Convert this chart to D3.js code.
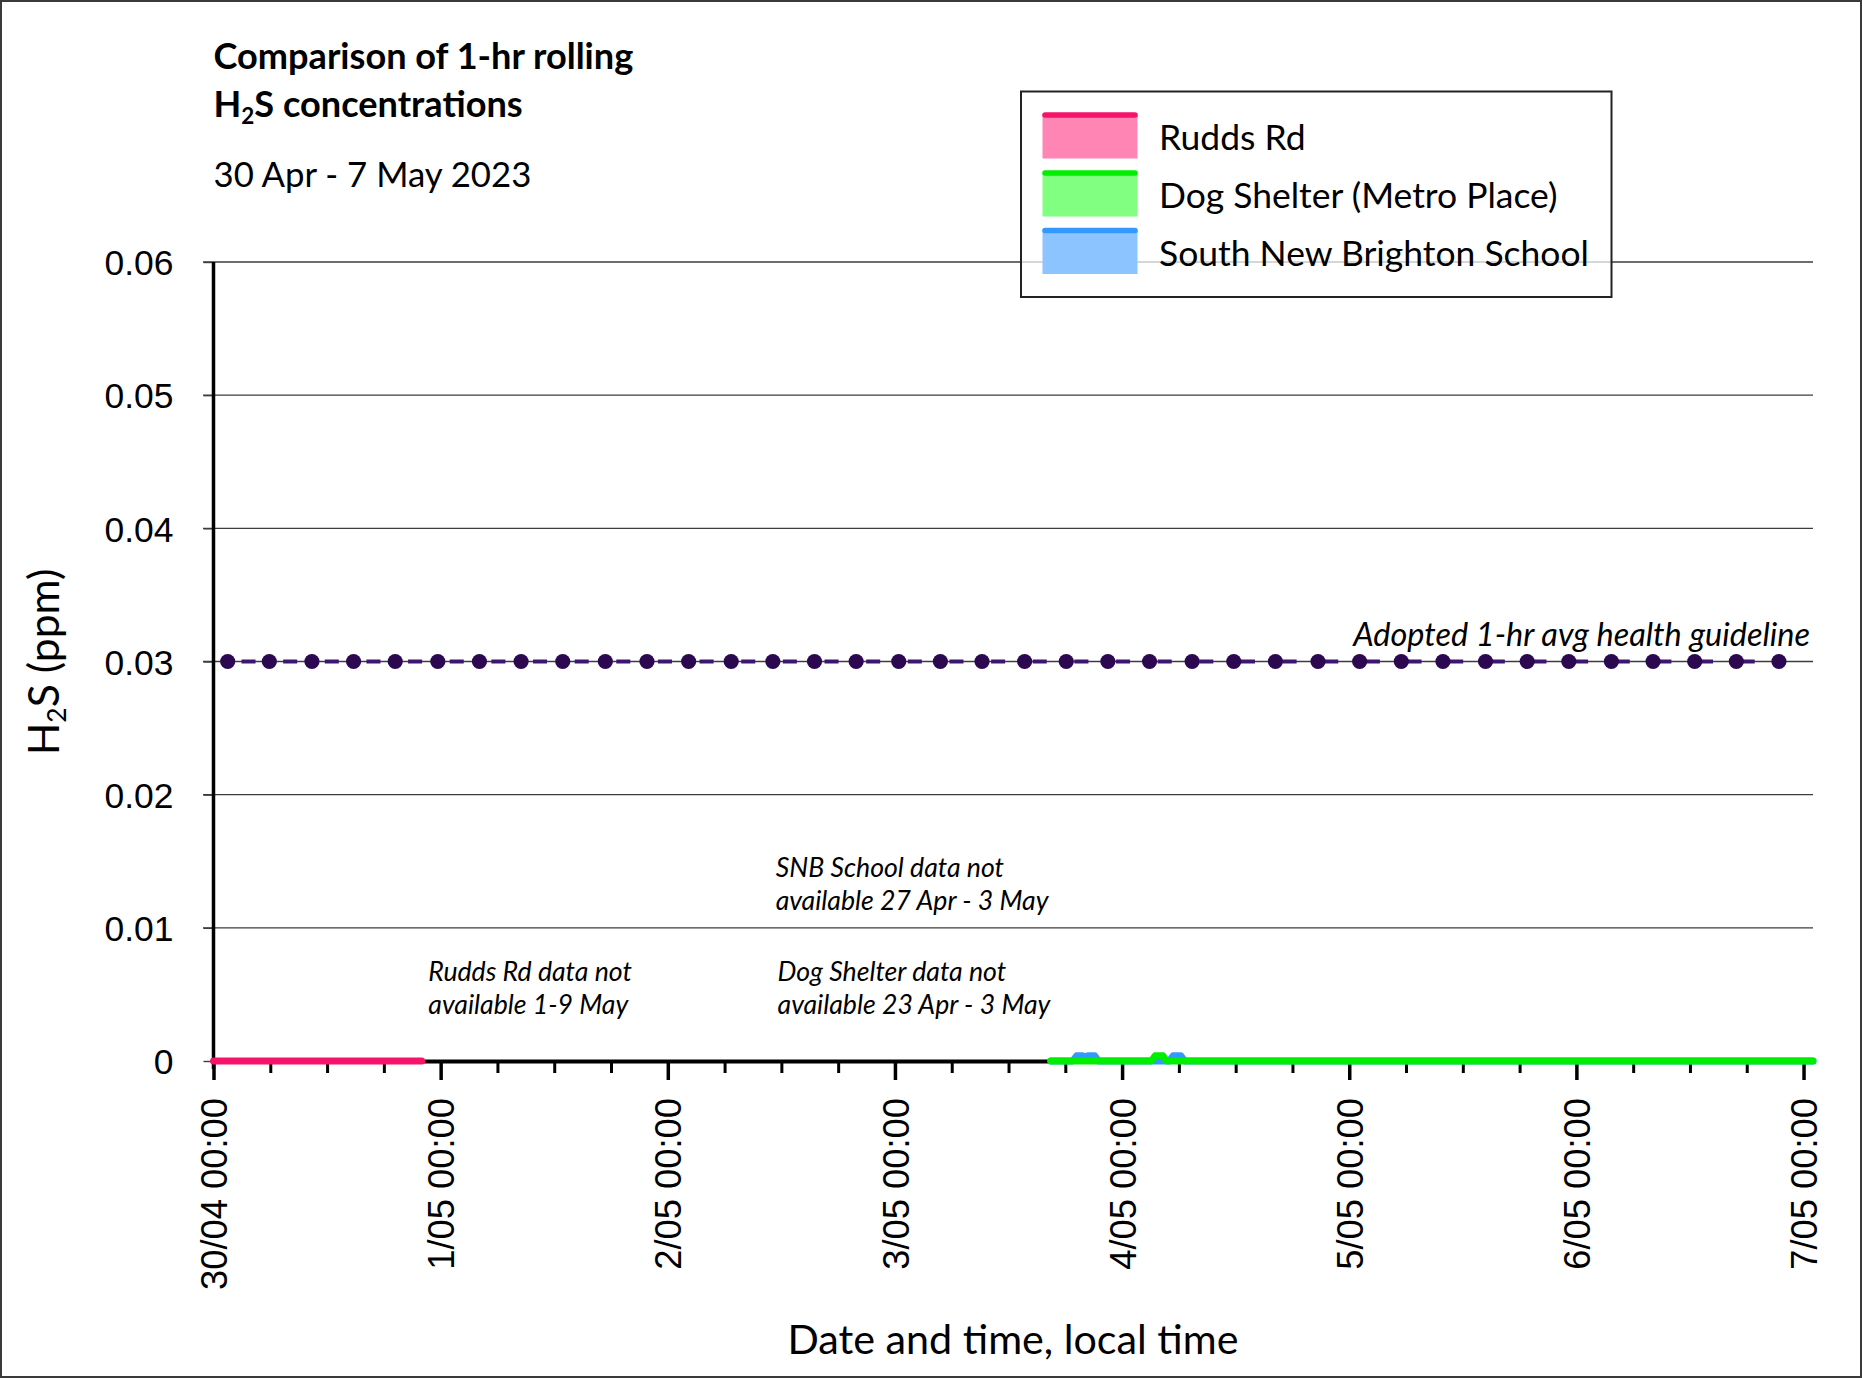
<!DOCTYPE html>
<html><head><meta charset="utf-8">
<script src="https://cdn.jsdelivr.net/npm/d3@7"></script>
<style>body{margin:0;background:#fff}svg{display:block}</style>
</head><body><svg id="c" width="1862" height="1378"></svg>
<script>
// ---------- data ----------
const titleLine1 = "Comparison of 1-hr rolling";
const titleLine2 = ["H", "2", "S concentrations"];
const subtitle = "30 Apr - 7 May 2023";
const yLabelParts = ["H", "2", "S (ppm)"];
const xTitle = "Date and time, local time";
const yTicks = [0, 0.01, 0.02, 0.03, 0.04, 0.05, 0.06];
const dayTickHours = [0, 24, 48, 72, 96, 120, 144, 168];
const domainHours = [0, 169];
const seriesNames = ["Rudds Rd", "Dog Shelter (Metro Place)", "South New Brighton School"];
const lineColors = ["#F5146A", "#00EE00", "#3399FF"];
const fillColors = ["#FF85B4", "#80FF80", "#8CC4FF"];
// [hours since 30/04 00:00, ppm]
const ruddsRd = [[0, 0], [22, 0]];
const dogShelter = [[88.45, 0], [99.1, 0], [99.5, 0.0004], [100.3, 0.0004], [100.7, 0], [169, 0]];
const snbSchool = [[88.5, 0], [90.8, 0], [91.2, 0.0004], [91.8, 0.0004], [92.1, 0.0003], [92.4, 0.0004], [93.1, 0.0004], [93.5, 0],
                   [101.0, 0], [101.4, 0.0004], [102.2, 0.0004], [102.6, 0], [169, 0]];
const guidelineValue = 0.03;
const guidelineHours = [1.5, 5.9, 10.4, 14.8, 19.2, 23.7, 28.1, 32.5, 36.9, 41.4, 45.8, 50.2, 54.7, 59.1, 63.5, 67.9, 72.4, 76.8, 81.2,
                        85.7, 90.1, 94.5, 98.9, 103.4, 107.8, 112.2, 116.7, 121.1, 125.5, 129.9, 134.4, 138.8, 143.2, 147.7, 152.1, 156.5, 160.9, 165.4];
const guidelineLabel = "Adopted 1-hr avg health guideline";
const notes = [
  {lines: ["SNB School data not", "available 27 Apr - 3 May"], hour: 59.4, value: 0.0138},
  {lines: ["Rudds Rd data not", "available 1-9 May"], hour: 22.7, value: 0.0060},
  {lines: ["Dog Shelter data not", "available 23 Apr - 3 May"], hour: 59.6, value: 0.0060}
];

// ---------- setup ----------
const svg = d3.select("#c");
const FONT = "Lato, 'Open Sans', sans-serif";
const TICKFONT = "'Liberation Sans', Arial, sans-serif";
function fit(sel, target) {
  sel.attr("font-size", 100);
  const w = sel.node().getComputedTextLength();
  const s = 100 * target / w;
  sel.attr("font-size", s);
  return s;
}
svg.append("rect").attr("x", 1).attr("y", 1).attr("width", 1860).attr("height", 1376)
  .attr("fill", "#fff").attr("stroke", "#3a3a3a").attr("stroke-width", 2);

const t0 = new Date(2023, 3, 30, 0, 0);
const hr = h => new Date(t0.getTime() + h * 3600e3);
const x = d3.scaleTime().domain(domainHours.map(hr)).range([213.5, 1813]);
const y = d3.scaleLinear().domain([0, 0.06]).range([1061, 262]);

// ---------- titles ----------
const t1 = svg.append("text").attr("x", 213.5).attr("y", 69).attr("font-family", FONT)
  .attr("font-weight", "bold").text(titleLine1);
const tsz = fit(t1, 420);
const t2 = svg.append("text").attr("x", 213.5).attr("y", 116.5).attr("font-family", FONT)
  .attr("font-weight", "bold").attr("font-size", tsz);
t2.append("tspan").text(titleLine2[0]);
t2.append("tspan").attr("font-size", tsz * 0.62).attr("dy", 7).text(titleLine2[1]);
t2.append("tspan").attr("dy", -7).text(titleLine2[2]);
const st = svg.append("text").attr("x", 213.5).attr("y", 186.5).attr("font-family", FONT).text(subtitle);
fit(st, 318);

// ---------- gridlines ----------
svg.append("g").selectAll("line").data(yTicks.filter(d => d > 0)).join("line")
  .attr("x1", 203).attr("x2", 1813).attr("y1", d => y(d)).attr("y2", d => y(d))
  .attr("stroke", "#3c3c3c").attr("stroke-width", 1.4);

// ---------- y axis ----------
const gy = svg.append("g").attr("transform", "translate(213.5,0)")
  .call(d3.axisLeft(y).tickValues(yTicks).tickSize(10).tickSizeOuter(0).tickPadding(30)
    .tickFormat(d => d === 0 ? "0" : d.toFixed(2)));
gy.select(".domain").remove();
gy.selectAll(".tick line").attr("stroke", "#3c3c3c").attr("stroke-width", 1.4);
gy.selectAll(".tick text").attr("font-family", TICKFONT).attr("fill", "#000").attr("dy", "0.36em");
const ysz = fit(gy.selectAll(".tick text").filter(d => d === 0.06), 69);
gy.selectAll(".tick text").attr("font-size", ysz);
svg.append("line").attr("x1", 213.5).attr("x2", 213.5).attr("y1", y(0.06)).attr("y2", 1069)
  .attr("stroke", "#000").attr("stroke-width", 3.5);

const yl = svg.append("text").attr("transform", "translate(59,662) rotate(-90)")
  .attr("text-anchor", "middle").attr("font-family", FONT);
yl.append("tspan").text(yLabelParts[0]);
const ylSub = yl.append("tspan").attr("dy", 7).text(yLabelParts[1]);
yl.append("tspan").attr("dy", -7).text(yLabelParts[2]);
const ylsz = fit(yl, 172);
ylSub.attr("font-size", ylsz * 0.62);
fit(yl, 177);
ylSub.attr("font-size", +yl.attr("font-size") * 0.62);

// ---------- x axis ----------
const minorHours = d3.range(0, 169, 6).filter(h => h % 24 !== 0);
const gxm = svg.append("g").attr("transform", "translate(0,1061)")
  .call(d3.axisBottom(x).tickValues(minorHours.map(hr)).tickSize(12).tickFormat(""));
gxm.select(".domain").remove();
gxm.selectAll(".tick line").attr("stroke", "#000").attr("stroke-width", 3);

const gx = svg.append("g").attr("transform", "translate(0,1061)")
  .call(d3.axisBottom(x).tickValues(dayTickHours.map(hr)).tickSize(19).tickSizeOuter(0)
    .tickFormat(d3.timeFormat("%-d/%m %H:%M")));
gx.select(".domain").attr("stroke", "#000").attr("stroke-width", 4);
gx.selectAll(".tick line").attr("stroke", "#000").attr("stroke-width", 3.5);
gx.selectAll(".tick text").attr("transform", "rotate(-90)").attr("text-anchor", "end")
  .attr("x", -37).attr("y", 0).attr("dy", "0.36em").attr("font-family", TICKFONT).attr("fill", "#000");
const xsz = fit(gx.selectAll(".tick text").filter((d, i) => i === 0), 192);
gx.selectAll(".tick text").attr("font-size", xsz);

const xt = svg.append("text").attr("x", 1013).attr("y", 1354).attr("text-anchor", "middle")
  .attr("font-family", FONT).text(xTitle);
fit(xt, 451);

// ---------- guideline ----------
const gl = guidelineHours.map(h => [h, guidelineValue]);
const p = x(hr(guidelineHours[1])) - x(hr(guidelineHours[0]));
const dashLen = 14;
svg.append("path").datum(gl)
  .attr("d", d3.line().x(d => x(hr(d[0]))).y(d => y(d[1])))
  .attr("fill", "none").attr("stroke", "#3D1670").attr("stroke-width", 4)
  .attr("stroke-dasharray", `${dashLen} ${p - dashLen}`)
  .attr("stroke-dashoffset", p - (p - dashLen) / 2);
svg.append("g").selectAll("circle").data(gl).join("circle")
  .attr("cx", d => x(hr(d[0]))).attr("cy", d => y(d[1])).attr("r", 7.6).attr("fill", "#2C0850");
const glt = svg.append("text").attr("x", 1810).attr("y", 646).attr("text-anchor", "end")
  .attr("font-family", FONT).attr("font-style", "italic").text(guidelineLabel);
fit(glt, 457);

// ---------- notes ----------
let noteSize = null;
notes.forEach(n => {
  const g = svg.append("text").attr("font-family", FONT).attr("font-style", "italic");
  n.lines.forEach((l, i) => {
    g.append("tspan").attr("x", x(hr(n.hour))).attr("y", y(n.value) + i * 33).text(l);
  });
});
const probe = svg.append("text").attr("font-family", FONT).attr("font-style", "italic").text(notes[2].lines[1]);
noteSize = fit(probe, 273);
probe.remove();
svg.selectAll("text[font-style='italic']").filter(function () { return this.textContent !== guidelineLabel; })
  .attr("font-size", noteSize);

// ---------- series ----------
const line = d3.line().x(d => x(hr(d[0]))).y(d => y(d[1]));
[[ruddsRd, 0], [snbSchool, 2], [dogShelter, 1]].forEach(([data, i]) => {
  svg.append("path").datum(data).attr("d", line).attr("fill", "none")
    .attr("stroke", lineColors[i]).attr("stroke-width", 7)
    .attr("stroke-linecap", "round").attr("stroke-linejoin", "round");
});

// ---------- legend ----------
const lg = svg.append("g");
lg.append("rect").attr("x", 1021).attr("y", 91.5).attr("width", 590.5).attr("height", 205.5)
  .attr("fill", "#fff").attr("fill-opacity", 0.72).attr("stroke", "#222").attr("stroke-width", 2);
const rowTop = [112.5, 170.5, 228];
seriesNames.forEach((name, i) => {
  lg.append("rect").attr("x", 1042.5).attr("y", rowTop[i] + 2).attr("width", 95).attr("height", 44)
    .attr("fill", fillColors[i]);
  lg.append("line").attr("x1", 1045).attr("x2", 1135).attr("y1", rowTop[i] + 2.5).attr("y2", rowTop[i] + 2.5)
    .attr("stroke", lineColors[i]).attr("stroke-width", 5.5).attr("stroke-linecap", "round");
});
const legTexts = seriesNames.map((name, i) =>
  lg.append("text").attr("x", 1159).attr("y", rowTop[i] + 37.5).attr("font-family", FONT).text(name));
const lsz = fit(legTexts[2], 430);
legTexts.forEach(t => t.attr("font-size", lsz));
</script></body></html>
